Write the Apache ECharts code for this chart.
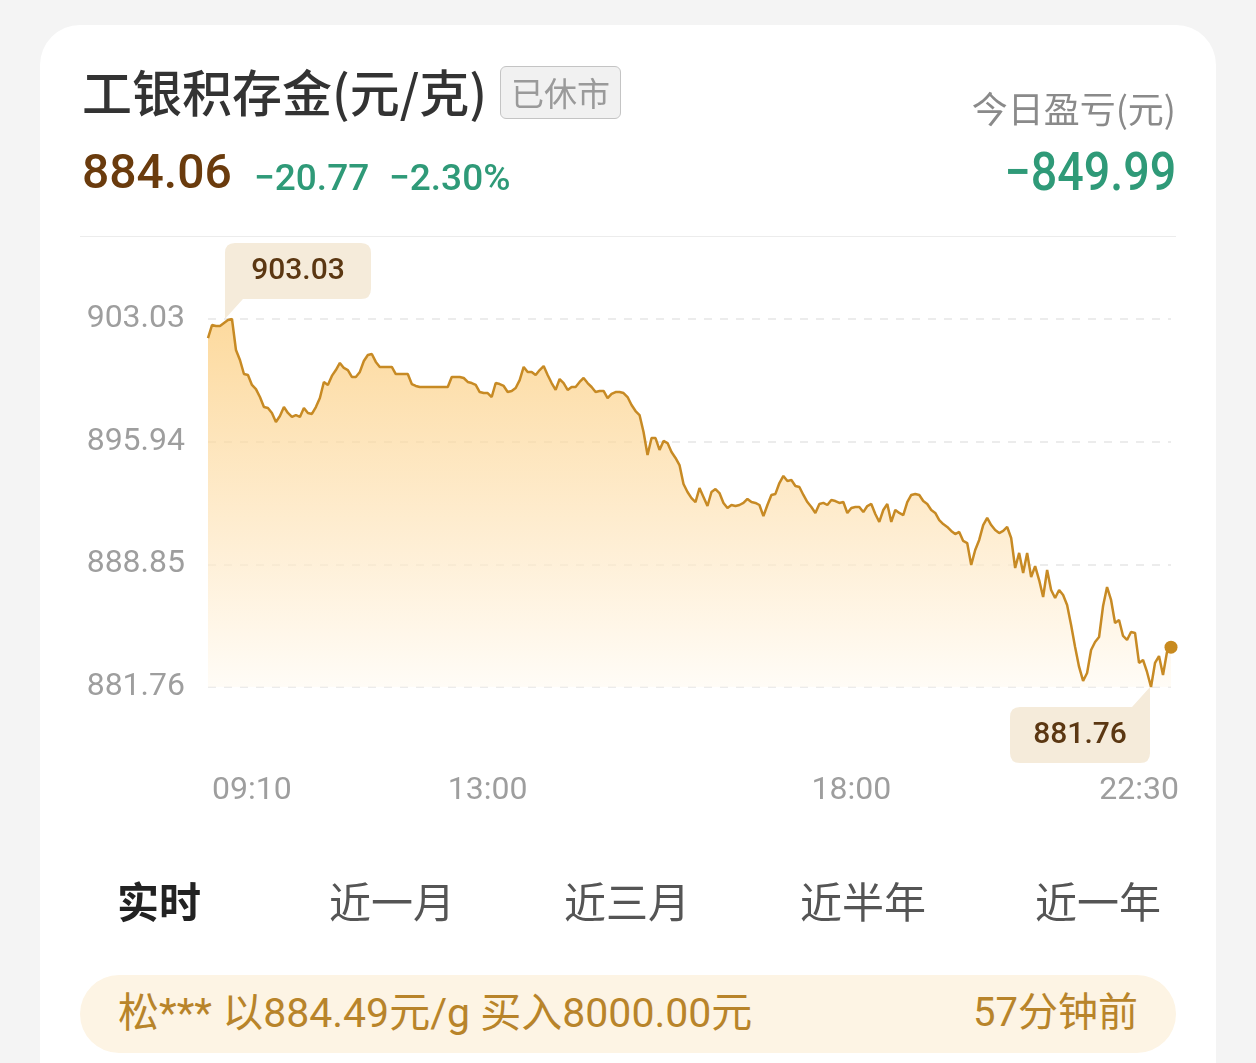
<!DOCTYPE html>
<html>
<head>
<meta charset="utf-8">
<script src="https://cdn.jsdelivr.net/npm/echarts@6/dist/echarts.min.js"></script>
<style>
  html, body { margin: 0; padding: 0; }
  body { width: 1256px; height: 1063px; background: #f4f4f4; position: relative; overflow: hidden;
         font-family: Roboto, "Noto Sans CJK SC", sans-serif; }
  .card { position: absolute; left: 40px; top: 25px; width: 1176px; height: 1120px; background: #fff; border-radius: 40px; }
  #chart { position: absolute; left: 0; top: 0; width: 1256px; height: 1063px; }
  .t { position: absolute; white-space: nowrap; line-height: 1; }
  .cond { display: inline-block; }
</style>
</head>
<body>
<div class="card"></div>
<div id="chart"></div>

<div class="t" style="left:82px;top:65px;font-size:50px;color:#333;font-weight:500;font-family:'Noto Sans CJK SC',sans-serif;">工银积存金(元/克)</div>
<div class="t" style="left:500px;top:66px;width:119px;height:51px;border:1.5px solid #c4c4c4;border-radius:6px;background:#f1f1f1;color:#9a9a9a;font-size:33px;font-family:'Noto Sans CJK SC',sans-serif;display:flex;align-items:center;justify-content:center;">已休市</div>

<div class="t" style="left:82px;top:148px;font-size:48px;color:#6a3b0d;font-weight:500;">884.06</div>
<div class="t" style="left:254px;top:159px;font-size:37px;color:#2f9a78;font-weight:500;">−20.77</div>
<div class="t" style="left:389px;top:159px;font-size:37px;color:#2f9a78;font-weight:500;">−2.30%</div>

<div class="t" style="right:80px;top:89px;font-size:36px;color:#8a8a8a;font-family:'Noto Sans CJK SC',sans-serif;">今日盈亏(元)</div>
<div class="t" style="right:80px;top:146px;font-size:53px;color:#2f9a78;font-weight:500;text-align:right;"><span class="cond" style="transform:scaleX(0.88);transform-origin:right center;">−849.99</span></div>

<div style="position:absolute;left:80px;top:236px;width:1096px;height:1px;background:#ececec;"></div>

<div class="t" style="left:117px;top:879px;font-size:42px;color:#222;font-weight:bold;font-family:'Noto Sans CJK SC',sans-serif;">实时</div>
<div class="t" style="left:329px;top:879px;font-size:42px;color:#555;font-family:'Noto Sans CJK SC',sans-serif;">近一月</div>
<div class="t" style="left:564px;top:879px;font-size:42px;color:#555;font-family:'Noto Sans CJK SC',sans-serif;">近三月</div>
<div class="t" style="left:800px;top:879px;font-size:42px;color:#555;font-family:'Noto Sans CJK SC',sans-serif;">近半年</div>
<div class="t" style="left:1035px;top:879px;font-size:42px;color:#555;font-family:'Noto Sans CJK SC',sans-serif;">近一年</div>

<div style="position:absolute;left:80px;top:975px;width:1096px;height:78px;border-radius:39px;background:#fdf4e4;"></div>
<div class="t" style="left:118px;top:993px;font-size:41px;color:#b8842a;">松*** 以884.49元/g 买入8000.00元</div>
<div class="t" style="right:118px;top:993px;font-size:40px;color:#b8842a;">57分钟前</div>

<script>
// ---- data ----
const timeTicks = ['09:10', '13:00', '18:00', '22:30'];
const timeTickIndex = [11, 70, 161, 233];
const yTicks = [881.76, 888.85, 895.94, 903.03];
const prices = [
  901.93, 902.68, 902.63, 902.63, 902.80, 902.97, 903.03, 901.24, 900.66, 899.85,
  899.79, 899.22, 898.98, 898.52, 897.94, 897.89, 897.60, 897.08, 897.42, 897.94,
  897.60, 897.37, 897.48, 897.37, 897.89, 897.60, 897.54, 897.94, 898.46, 899.39,
  899.22, 899.74, 900.08, 900.49, 900.20, 900.08, 899.68, 899.68, 899.97, 900.60,
  900.95, 901.01, 900.55, 900.26, 900.26, 900.26, 900.26, 899.85, 899.85, 899.85,
  899.85, 899.27, 899.16, 899.10, 899.10, 899.10, 899.10, 899.10, 899.10, 899.10,
  899.10, 899.68, 899.68, 899.68, 899.62, 899.39, 899.33, 899.22, 898.81, 898.75,
  898.75, 898.52, 899.33, 899.27, 899.16, 898.81, 898.87, 899.04, 899.50, 900.26,
  899.97, 899.97, 899.79, 900.08, 900.31, 899.79, 899.33, 898.93, 899.56, 899.33,
  898.93, 899.10, 899.10, 899.39, 899.62, 899.33, 899.10, 898.81, 898.87, 898.87,
  898.46, 898.70, 898.81, 898.81, 898.75, 898.52, 898.06, 897.71, 897.48, 896.50,
  895.17, 896.15, 896.15, 895.46, 895.98, 895.86, 895.34, 895.00, 894.59, 893.49,
  893.03, 892.68, 892.45, 893.26, 892.74, 892.22, 893.03, 893.20, 892.97, 892.40,
  892.11, 892.28, 892.22, 892.28, 892.40, 892.63, 892.45, 892.40, 892.28, 891.64,
  892.28, 892.86, 892.92, 893.55, 893.96, 893.67, 893.72, 893.38, 893.32, 892.86,
  892.45, 892.16, 891.82, 892.34, 892.40, 892.28, 892.57, 892.51, 892.40, 892.45,
  891.82, 892.11, 892.16, 892.16, 891.87, 892.22, 892.34, 891.76, 891.30, 891.99,
  892.34, 891.30, 891.99, 891.82, 891.70, 892.45, 892.86, 892.92, 892.86, 892.51,
  892.34, 891.99, 891.82, 891.41, 891.18, 891.01, 890.78, 890.60, 890.72, 890.20,
  890.08, 888.81, 889.68, 890.26, 891.12, 891.53, 891.12, 890.83, 890.66, 890.78,
  891.01, 890.37, 888.64, 889.51, 888.35, 889.51, 888.12, 888.75, 887.94, 886.96,
  888.52, 887.37, 886.90, 887.37, 887.08, 886.50, 885.34, 884.07, 882.92, 882.11,
  882.57, 883.90, 884.36, 884.65, 886.44, 887.54, 886.79, 885.46, 885.63, 884.71,
  884.48, 884.94, 884.88, 883.15, 883.32, 882.63, 881.76, 883.15, 883.55, 882.45,
  883.78, 884.06
];

const categories = prices.map((_, i) => i);
const lastIdx = prices.length - 1;

const numFont = 'Roboto, "Noto Sans CJK SC", sans-serif';
const boxColor = '#f5ebda';
const maxBox = 'path://M10,0 H136 Q146,0 146,10 V46 Q146,56 136,56 H18 L0,76 L0,10 Q0,0 10,0 Z';
const minBox = 'path://M10,20 H122 L140,0 V66 Q140,76 130,76 H10 Q0,76 0,66 V30 Q0,20 10,20 Z';
const boxLabel = { show: true, position: 'inside', formatter: (p) => p.value.toFixed(2),
                   color: '#5b3712', fontSize: 30, fontFamily: numFont, fontWeight: 500 };

const chart = echarts.init(document.getElementById('chart'), null, { renderer: 'canvas' });
chart.setOption({
  animation: false,
  grid: { left: 208, top: 319, width: 963, height: 368, containLabel: false },
  xAxis: {
    type: 'category',
    data: categories,
    boundaryGap: false,
    axisLine: { show: false },
    axisTick: { show: false },
    splitLine: { show: false },
    axisLabel: {
      interval: (idx) => timeTickIndex.indexOf(idx) >= 0,
      formatter: (v, idx) => timeTicks[timeTickIndex.indexOf(idx)] || '',
      color: '#9e9e9e',
      fontSize: 32,
      fontFamily: numFont,
      margin: 88,
      hideOverlap: false
    }
  },
  yAxis: {
    type: 'value',
    min: yTicks[0],
    max: yTicks[yTicks.length - 1],
    interval: +(yTicks[1] - yTicks[0]).toFixed(2),
    axisLine: { show: false },
    axisTick: { show: false },
    axisLabel: {
      formatter: (v) => v.toFixed(2),
      color: '#9e9e9e',
      fontSize: 32,
      fontFamily: numFont,
      margin: 23
    },
    splitLine: { show: true, lineStyle: { color: '#e6e6e6', type: [8, 8], width: 1.5 } }
  },
  series: [{
    type: 'line',
    data: prices,
    showSymbol: false,
    smooth: false,
    lineStyle: { color: '#c78a24', width: 2.5 },
    areaStyle: {
      origin: 'start',
      color: new echarts.graphic.LinearGradient(0, 0, 0, 1, [
        { offset: 0, color: '#fbc974' },
        { offset: 0.6, color: '#fde6c0' },
        { offset: 1, color: '#fffaf2' }
      ])
    },
    markPoint: {
      silent: true,
      data: [
        {
          type: 'max',
          symbol: maxBox,
          symbolSize: [146, 76],
          symbolKeepAspect: false,
          symbolOffset: [66, -38],
          itemStyle: { color: boxColor },
          label: Object.assign({}, boxLabel, { offset: [0, -10] })
        },
        {
          type: 'min',
          symbol: minBox,
          symbolSize: [140, 76],
          symbolKeepAspect: false,
          symbolOffset: [-71, 38],
          itemStyle: { color: boxColor },
          label: Object.assign({}, boxLabel, { offset: [0, 10] })
        },
        {
          coord: [lastIdx, prices[lastIdx]],
          symbol: 'circle',
          symbolSize: 13,
          itemStyle: { color: '#c88a1f' },
          label: { show: false }
        }
      ]
    }
  }]
});
</script>
</body>
</html>
